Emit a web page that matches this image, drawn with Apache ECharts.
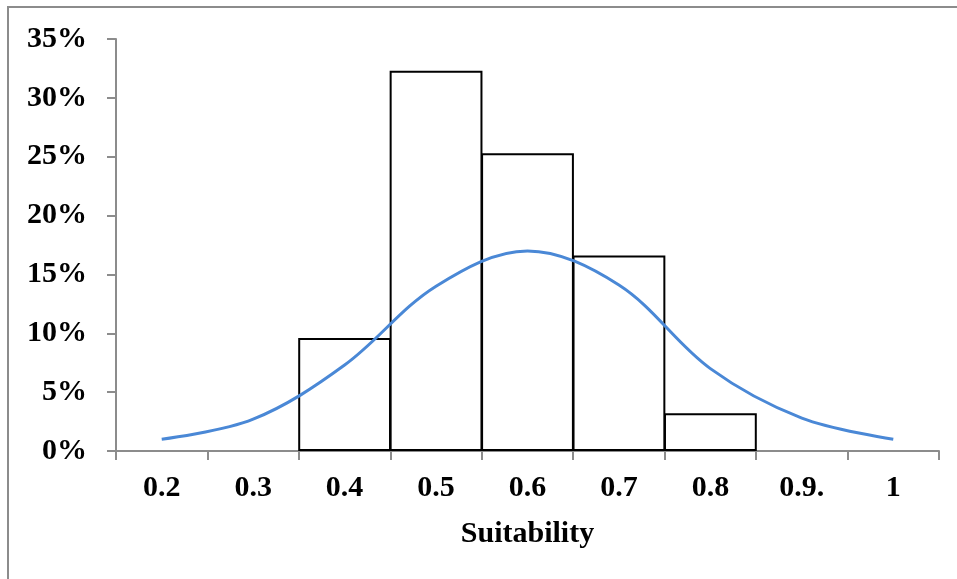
<!DOCTYPE html>
<html lang="en">
<head>
<meta charset="UTF-8" />
<title>Suitability histogram</title>
<style>
  html, body { margin: 0; padding: 0; background: #fff; }
  #chart { width: 957px; height: 579px; }
</style>
</head>
<body>
<div id="chart"></div>
<script src="https://cdn.jsdelivr.net/npm/echarts@6/dist/echarts.min.js"></script>
<script>
  // categories on the x axis (the "0.9." label is as printed)
  const categories = ['0.2', '0.3', '0.4', '0.5', '0.6', '0.7', '0.8', '0.9.', '1'];
  // histogram share per class, in %
  const barValues = [null, null, 9.6, 32.3, 25.3, 16.6, 3.2, null, null];
  // fitted distribution curve, in %
  const curveValues = [1.0, 2.7, 7.3, 14.0, 17.0, 14.1, 7.0, 2.8, 1.0];

  const font = '"Liberation Serif", "Times New Roman", serif';
  const axisGrey = '#8c8c8c';

  const chart = echarts.init(document.getElementById('chart'));

  const option = {
    animation: false,
    textStyle: { fontFamily: font },
    graphic: [
      {
        type: 'rect',
        shape: { x: 8, y: 7, width: 1200, height: 900 },
        style: { fill: 'none', stroke: axisGrey, lineWidth: 2 },
        silent: true
      }
    ],
    grid: { left: 116, right: 18, top: 39, bottom: 128 },
    xAxis: {
      type: 'category',
      data: categories,
      boundaryGap: true,
      name: 'Suitability',
      nameLocation: 'middle',
      nameGap: 68,
      nameTextStyle: { fontFamily: font, fontWeight: 'bold', fontSize: 30, color: '#000' },
      axisLine: { show: true, lineStyle: { color: axisGrey, width: 2 } },
      axisTick: { show: true, length: 9, lineStyle: { color: axisGrey, width: 2 } },
      axisLabel: { margin: 22, fontFamily: font, fontWeight: 'bold', fontSize: 30, color: '#000' },
      splitLine: { show: false }
    },
    yAxis: {
      type: 'value',
      min: 0,
      max: 35,
      interval: 5,
      axisLine: { show: true, lineStyle: { color: axisGrey, width: 2 } },
      axisTick: { show: true, length: 9, lineStyle: { color: axisGrey, width: 2 } },
      axisLabel: {
        margin: 29,
        formatter: '{value}%',
        fontFamily: font, fontWeight: 'bold', fontSize: 30, color: '#000'
      },
      splitLine: { show: false }
    },
    series: [
      {
        name: 'Share',
        type: 'bar',
        data: barValues,
        barWidth: '101.5%',
        barCategoryGap: 0,
        itemStyle: { color: '#fff', borderColor: '#000', borderWidth: 2 },
        z: 2
      },
      {
        name: 'Fit',
        type: 'line',
        data: curveValues,
        smooth: 0.35,
        showSymbol: false,
        lineStyle: { color: '#4a88d6', width: 3 },
        z: 3
      }
    ]
  };

  chart.setOption(option);
</script>
</body>
</html>
